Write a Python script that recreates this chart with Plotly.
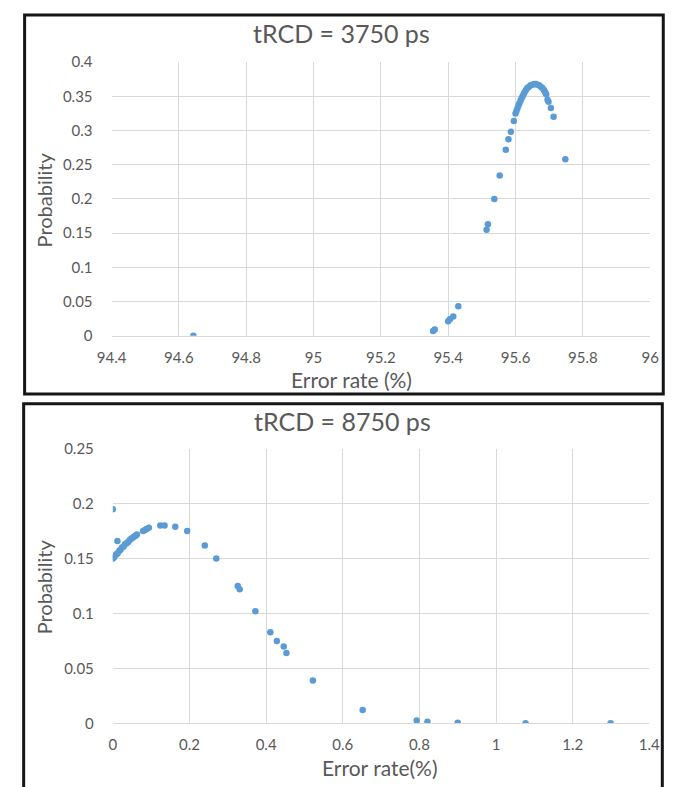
import plotly.graph_objects as go

W, H = 681, 787

# ---- Top chart data (tRCD = 3750 ps) ----
top_title = "tRCD = 3750 ps"
top_error = [94.643, 95.355, 95.360, 95.400, 95.405, 95.415, 95.430,
             95.514, 95.518, 95.537, 95.553, 95.571, 95.579, 95.586, 95.595,
             95.600, 95.603, 95.606, 95.609, 95.612, 95.615, 95.618, 95.621,
             95.624, 95.627, 95.631, 95.635, 95.640, 95.645, 95.650, 95.655,
             95.660, 95.665, 95.670, 95.675, 95.680, 95.684, 95.688, 95.691,
             95.695, 95.698, 95.705, 95.713, 95.748]
top_prob = [0.000, 0.007, 0.009, 0.021, 0.024, 0.028, 0.043,
            0.155, 0.163, 0.200, 0.234, 0.272, 0.287, 0.298, 0.314,
            0.325, 0.329, 0.333, 0.337, 0.340, 0.344, 0.347, 0.350,
            0.353, 0.356, 0.359, 0.362, 0.364, 0.366, 0.367, 0.368,
            0.368, 0.367, 0.366, 0.364, 0.362, 0.359, 0.356, 0.353,
            0.345, 0.342, 0.333, 0.320, 0.258]
top_xticks = [94.4, 94.6, 94.8, 95, 95.2, 95.4, 95.6, 95.8, 96]
top_xticklabels = ["94.4", "94.6", "94.8", "95", "95.2", "95.4", "95.6", "95.8", "96"]
top_yticks = [0, 0.05, 0.1, 0.15, 0.2, 0.25, 0.3, 0.35, 0.4]
top_yticklabels = ["0", "0.05", "0.1", "0.15", "0.2", "0.25", "0.3", "0.35", "0.4"]

# ---- Bottom chart data (tRCD = 8750 ps) ----
bot_title = "tRCD = 8750 ps"
bot_error = [0.000, 0.012,
             0.000, 0.003, 0.006, 0.010, 0.013, 0.017, 0.020, 0.024, 0.028,
             0.032, 0.036, 0.040, 0.044, 0.048, 0.052, 0.056, 0.060, 0.063,
             0.079, 0.084, 0.088, 0.094,
             0.124, 0.135, 0.163, 0.194, 0.240, 0.270, 0.326, 0.331, 0.372,
             0.411, 0.428, 0.446, 0.453, 0.522, 0.652, 0.793, 0.821, 0.900,
             1.077, 1.299]
bot_prob = [0.195, 0.166,
            0.150, 0.151, 0.153, 0.154, 0.155, 0.157, 0.158, 0.160, 0.161,
            0.163, 0.164, 0.165, 0.167, 0.168, 0.169, 0.170, 0.171, 0.172,
            0.175, 0.176, 0.177, 0.178,
            0.180, 0.180, 0.179, 0.175, 0.162, 0.150, 0.125, 0.122, 0.102,
            0.083, 0.075, 0.070, 0.064, 0.039, 0.012, 0.0025, 0.0015, 0.0006,
            0.0001, 0.000]
bot_xticks = [0, 0.2, 0.4, 0.6, 0.8, 1, 1.2, 1.4]
bot_xticklabels = ["0", "0.2", "0.4", "0.6", "0.8", "1", "1.2", "1.4"]
bot_yticks = [0, 0.05, 0.1, 0.15, 0.2, 0.25]
bot_yticklabels = ["0", "0.05", "0.1", "0.15", "0.2", "0.25"]

FONT = "Lato"
TXT = "#595959"
GRID = "#d9d9d9"
DOT = "#5b9bd5"


def px(x):
    return x / W


def py(y):
    return 1 - y / H


fig = go.Figure()
fig.add_trace(go.Scatter(x=top_error, y=top_prob, mode="markers",
                         marker=dict(color=DOT, size=6.5), xaxis="x", yaxis="y",
                         showlegend=False, hoverinfo="x+y"))
fig.add_trace(go.Scatter(x=bot_error, y=bot_prob, mode="markers",
                         marker=dict(color=DOT, size=6.5), xaxis="x2", yaxis="y2",
                         showlegend=False, hoverinfo="x+y"))

axis_common = dict(showgrid=True, gridcolor=GRID, gridwidth=1, zeroline=False,
                   ticks="", tickfont=dict(family=FONT, size=15, color=TXT),
                   fixedrange=True)

fig.update_layout(
    width=W, height=H,
    margin=dict(l=0, r=0, t=0, b=0),
    paper_bgcolor="white", plot_bgcolor="white",
    font=dict(family=FONT, color=TXT),
    xaxis=dict(domain=[px(100.4), px(660.4)], range=[94.4, 96],
               tickvals=top_xticks, ticktext=top_xticklabels,
               anchor="y", showline=True, linecolor=GRID,
               ticklabelstandoff=8, **axis_common),
    yaxis=dict(domain=[py(333.3), py(53.3)], range=[0, 0.4],
               tickvals=top_yticks, ticktext=top_yticklabels,
               anchor="x", ticklabelstandoff=18, **axis_common),
    xaxis2=dict(domain=[px(101.7), px(659.5)], range=[0, 1.4],
                tickvals=bot_xticks, ticktext=bot_xticklabels,
                anchor="y2", showline=True, linecolor=GRID,
                ticklabelstandoff=8, **axis_common),
    yaxis2=dict(domain=[py(730), py(449)], range=[0, 0.25],
                tickvals=bot_yticks, ticktext=bot_yticklabels,
                anchor="x2", ticklabelstandoff=18, **axis_common),
)

# Titles and axis titles
ann = [
    (top_title, 339, 24, 25, 0),
    ("Error rate (%)", 350, 378.5, 21, 0),
    ("Probability", 30, 194, 20, -90),
    (bot_title, 341, 421, 25, 0),
    ("Error rate(%)", 380, 775, 21, 0),
    ("Probability", 30, 590, 20, -90),
]
for text, x, y, size, ang in ann:
    fig.add_annotation(text=text, x=px(x), y=py(y), xref="paper", yref="paper",
                       showarrow=False, xanchor="center", yanchor="middle",
                       textangle=ang, font=dict(family=FONT, size=size, color=TXT))

# Panel borders
fig.add_shape(type="rect", xref="paper", yref="paper",
              x0=px(10), x1=px(674), y0=py(393), y1=py(5),
              line=dict(color="#151515", width=3), fillcolor="rgba(0,0,0,0)", layer="above")
fig.add_shape(type="rect", xref="paper", yref="paper",
              x0=px(9), x1=px(673), y0=py(800), y1=py(403),
              line=dict(color="#151515", width=3), fillcolor="rgba(0,0,0,0)", layer="above")

fig.write_html("out.html", config={"displayModeBar": False},
               post_script="document.body.style.margin='0';document.body.style.overflow='hidden';")
